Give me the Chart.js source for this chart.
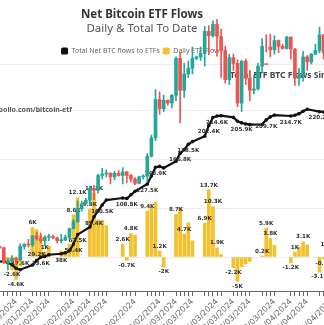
<!DOCTYPE html>
<html>
<head>
<meta charset="utf-8">
<script src="https://cdn.jsdelivr.net/npm/chart.js@4.4.1/dist/chart.umd.min.js"></script>
<style>
  html, body { margin: 0; padding: 0; background: #fff; overflow: hidden; }
  #wrap { position: absolute; left: -158px; top: 0; width: 600px; height: 333px; }
</style>
</head>
<body>
<div id="wrap"><canvas id="flowChart"></canvas></div>
<script>
// trading days with ETF flow data
const flowDates = [
  '2024-01-11', '2024-01-12', '2024-01-16', '2024-01-17', '2024-01-18', '2024-01-19',
  '2024-01-22', '2024-01-23', '2024-01-24', '2024-01-25', '2024-01-26',
  '2024-01-29', '2024-01-30', '2024-01-31', '2024-02-01', '2024-02-02',
  '2024-02-05', '2024-02-06', '2024-02-07', '2024-02-08', '2024-02-09',
  '2024-02-12', '2024-02-13', '2024-02-14', '2024-02-15', '2024-02-16',
  '2024-02-20', '2024-02-21', '2024-02-22', '2024-02-23',
  '2024-02-26', '2024-02-27', '2024-02-28', '2024-02-29', '2024-03-01',
  '2024-03-04', '2024-03-05', '2024-03-06', '2024-03-07', '2024-03-08',
  '2024-03-11', '2024-03-12', '2024-03-13', '2024-03-14', '2024-03-15',
  '2024-03-18', '2024-03-19', '2024-03-20', '2024-03-21', '2024-03-22',
  '2024-03-25', '2024-03-26', '2024-03-27', '2024-03-28',
  '2024-04-01', '2024-04-02', '2024-04-03', '2024-04-04', '2024-04-05',
  '2024-04-08', '2024-04-09', '2024-04-10', '2024-04-11', '2024-04-12'
];

// daily net flows, thousands of BTC
const dailyFlows = [
  11.0, 6.5, 5.8, 3.0, 0.6, 2.1,
  -1.0, -1.4, -2.6, -4.6, -1.8,
  6.0, 5.6, 4.4, 1.0, 2.2,
  1.2, 1.2, 2.6, 8.6, 12.1,
  9.8, 13.1, 7.6, 7.5, 6.4,
  2.6, -0.7, 4.8, 4.5,
  9.4, 10.2, 11.2, 1.2, -2.0,
  8.7, 10.0, 4.7, 7.0, 3.3,
  6.9, 13.7, 10.3, 1.9, 0.5,
  -2.2, -5.0, -2.0, -1.4, -0.9,
  0.2, 5.9, 3.8, 2.4,
  -1.2, 1.0, 2.0, 3.1, 2.5,
  -3.1, -0.4, 1.6, 0.8, -0.5
];

// total net flows to date, thousands of BTC
const totalFlows = [
  11.0, 17.5, 23.3, 26.3, 26.9, 29.0,
  28.0, 26.6, 24.0, 19.4, 17.6,
  23.6, 29.2, 33.6, 34.6, 36.8,
  38.0, 39.2, 41.8, 50.4, 62.5,
  72.3, 85.4, 93.0, 100.5, 106.9,
  109.5, 108.8, 113.6, 118.1,
  127.5, 137.7, 148.9, 150.1, 148.1,
  156.8, 166.8, 171.5, 178.5, 181.8,
  188.7, 202.4, 212.7, 214.6, 215.1,
  212.9, 207.9, 205.9, 204.5, 203.6,
  203.8, 209.7, 213.5, 215.9,
  214.7, 215.7, 217.7, 220.8, 223.3,
  220.2, 219.8, 221.4, 222.2, 221.7
];

// daily BTC candles (thousands of USD), one per calendar day from priceStart
const priceStart = '2024-01-18';
const priceOpen = [
  42.7, 41.3, 41.6, 41.7, 41.6, 39.5, 39.8, 40.1, 39.9, 41.8, 42.1, 42.0, 43.3, 42.9,
  42.6, 43.1, 43.2, 43.0, 42.6, 42.7, 43.1, 44.3, 45.3, 47.1, 47.8, 48.3, 50.0, 49.7, 51.8,
  52.0, 52.1, 51.6, 52.1, 51.8, 52.3, 51.8, 51.3, 50.7, 51.6, 51.7, 54.5, 57.1, 62.5,
  61.2, 62.4, 62.0, 63.1, 68.3, 63.8, 66.1, 66.9, 68.3, 68.5, 69.0, 72.1, 71.5, 73.1, 71.4,
  69.4, 65.3, 68.4, 67.6, 62.0, 67.9, 65.5, 63.8, 64.0, 67.2, 70.0, 69.9, 69.5, 70.8, 70.0, 69.7,
  71.3, 69.6, 65.5, 65.9, 68.5, 67.8, 68.9, 69.4, 71.6, 69.1, 70.6, 70.0
];
const priceHigh = [
  42.9, 42.2, 41.9, 41.9, 41.7, 40.1, 40.5, 40.3, 42.2, 42.2, 42.8, 43.3, 43.8, 43.7,
  43.3, 43.5, 43.4, 43.1, 43.5, 43.4, 44.4, 45.6, 48.2, 48.2, 48.6, 50.3, 50.4, 52.0, 52.8,
  52.6, 52.2, 52.4, 52.5, 52.9, 52.4, 52.0, 51.5, 51.7, 51.9, 54.9, 57.5, 63.9, 63.6,
  63.1, 62.4, 63.2, 68.5, 69.2, 67.6, 67.9, 69.9, 68.6, 69.9, 72.8, 72.9, 73.6, 73.8, 72.4,
  70.0, 68.9, 68.9, 68.1, 68.0, 68.2, 66.6, 65.9, 67.6, 71.1, 71.6, 71.7, 71.5, 70.9, 70.3, 71.4,
  71.3, 69.7, 66.9, 69.3, 68.7, 69.0, 70.3, 72.7, 71.7, 71.0, 71.2, 71.2
];
const priceLow = [
  40.7, 40.3, 41.5, 41.5, 39.4, 38.5, 39.5, 39.3, 39.8, 41.4, 41.7, 41.8, 42.7, 42.3,
  41.9, 42.6, 42.9, 42.3, 42.3, 42.6, 42.8, 44.3, 45.2, 46.8, 47.7, 47.7, 48.4, 49.3, 51.3,
  51.6, 50.6, 51.2, 51.7, 50.6, 50.8, 50.9, 50.5, 50.6, 51.3, 50.9, 54.4, 56.7, 60.4,
  60.8, 61.7, 61.3, 62.3, 59.2, 62.8, 65.6, 66.1, 68.1, 68.0, 67.2, 68.8, 71.3, 68.6, 65.6,
  64.8, 64.6, 66.6, 61.5, 60.8, 64.6, 62.3, 63.3, 63.8, 66.4, 69.2, 68.5, 68.9, 69.1, 69.6, 69.6,
  68.2, 64.5, 64.5, 65.1, 66.6, 67.5, 68.8, 69.1, 68.2, 67.5, 69.6, 65.3
];
const priceClose = [
  41.3, 41.6, 41.7, 41.6, 39.5, 39.8, 40.1, 39.9, 41.8, 42.1, 42.0, 43.3, 42.9, 42.6,
  43.1, 43.2, 43.0, 42.6, 42.7, 43.1, 44.3, 45.3, 47.1, 47.8, 48.3, 50.0, 49.7, 51.8, 52.0,
  52.1, 51.6, 52.1, 51.8, 52.3, 51.8, 51.3, 50.7, 51.6, 51.7, 54.5, 57.1, 62.5, 61.2,
  62.4, 62.0, 63.1, 68.3, 63.8, 66.1, 66.9, 68.3, 68.5, 69.0, 72.1, 71.5, 73.1, 71.4, 69.4,
  65.3, 68.4, 67.6, 62.0, 67.9, 65.5, 63.8, 64.0, 67.2, 70.0, 69.9, 69.5, 70.8, 70.0, 69.7, 71.3,
  69.6, 65.5, 65.9, 68.5, 67.8, 68.9, 69.4, 71.6, 69.1, 70.6, 70.0, 67.2
];

// x axis labels and which points carry value labels
const tickLabelDates = [
  '2024-01-19', '2024-01-25', '2024-01-29', '2024-02-02', '2024-02-08', '2024-02-12',
  '2024-02-16', '2024-02-23', '2024-02-29', '2024-03-04', '2024-03-08', '2024-03-14',
  '2024-03-18', '2024-03-22', '2024-03-28', '2024-04-01', '2024-04-05', '2024-04-11'
];
const barLabelDates = [
  '2024-01-24', '2024-01-25', '2024-01-29', '2024-02-01', '2024-02-08', '2024-02-09',
  '2024-02-12', '2024-02-13', '2024-02-20', '2024-02-21', '2024-02-22', '2024-02-26',
  '2024-02-29', '2024-03-01', '2024-03-04', '2024-03-06', '2024-03-11', '2024-03-12',
  '2024-03-13', '2024-03-14', '2024-03-18', '2024-03-19', '2024-03-25', '2024-03-26',
  '2024-03-27', '2024-04-01', '2024-04-02', '2024-04-04', '2024-04-08', '2024-04-09',
  '2024-04-10'
];
const totalLabelDates = [
  '2024-01-26', '2024-01-30', '2024-01-31', '2024-02-05', '2024-02-08', '2024-02-09',
  '2024-02-13', '2024-02-15', '2024-02-21', '2024-02-26', '2024-02-28', '2024-03-05',
  '2024-03-07', '2024-03-12', '2024-03-14', '2024-03-20', '2024-03-26', '2024-04-01',
  '2024-04-08'
];

const GREEN = '#26a69a';
const RED = '#ef5350';
const YELLOW = '#f2c12e';

function toDay(s) {
  const [y, m, d] = s.split('-').map(Number);
  return (Date.UTC(y, m - 1, d) - Date.UTC(2024, 0, 1)) / 86400000;
}
function fmtDate(s) {
  const [y, m, d] = s.split('-');
  return `${d}/${m}/${y}`;
}
function fmtK(v) {
  return `${Math.round(v * 10) / 10}K`;
}

const flowDays = flowDates.map(toDay);
const tickLabels = new Map(tickLabelDates.map((s) => [toDay(s), fmtDate(s)]));
const barLabelSet = new Set(barLabelDates);
const totalLabelSet = new Set(totalLabelDates);

const priceDays = priceOpen.map((_, i) => toDay(priceStart) + i);
const candleColors = priceOpen.map((o, i) => (priceClose[i] >= o ? GREEN : RED));

const overlayText = {
  id: 'overlayText',
  beforeDatasetsDraw(chart) {
    const ctx = chart.ctx;
    ctx.save();
    ctx.textBaseline = 'middle';
    ctx.font = 'bold 7px "Noto Sans"';
    ctx.fillStyle = '#555';
    ctx.textAlign = 'right';
    ctx.fillText('heyapollo.com/bitcoin-etf', 230, 110);
    ctx.font = 'bold 8.5px "Noto Sans"';
    ctx.fillStyle = '#444';
    ctx.textAlign = 'left';
    ctx.fillText('Total ETF BTC Flows Since Launch', 388, 76);
    ctx.restore();
  },
  afterDatasetDraw(chart, args) {
    const ctx = chart.ctx;
    const meta = chart.getDatasetMeta(args.index);
    ctx.save();
    ctx.font = 'bold 5.6px "DejaVu Sans"';
    ctx.fillStyle = '#333';
    ctx.textAlign = 'center';
    if (args.index === 1) {
      flowDates.forEach((d, i) => {
        if (!barLabelSet.has(d)) return;
        const el = meta.data[i];
        const v = dailyFlows[i];
        if (v >= 0) {
          ctx.textBaseline = 'bottom';
          ctx.fillText(fmtK(v), el.x, el.y - 2);
        } else {
          ctx.textBaseline = 'top';
          ctx.fillText(fmtK(v), el.x, el.y + 2);
        }
      });
    }
    if (args.index === 0) {
      flowDates.forEach((d, i) => {
        if (!totalLabelSet.has(d)) return;
        const el = meta.data[i];
        if (el.y > 258) {
          ctx.textBaseline = 'bottom';
          ctx.fillText(fmtK(totalFlows[i]), el.x, el.y - 3.5);
        } else {
          ctx.textBaseline = 'top';
          ctx.fillText(fmtK(totalFlows[i]), el.x, el.y + 3.5);
        }
      });
    }
    ctx.restore();
  }
};

Chart.defaults.font.family = '"Noto Sans", sans-serif';

new Chart(document.getElementById('flowChart'), {
  type: 'bar',
  data: {
    datasets: [
      {
        type: 'line',
        label: 'Total Net BTC flows to ETFs',
        data: flowDays.map((x, i) => ({ x, y: totalFlows[i] })),
        yAxisID: 'yTotal',
        order: 2,
        borderColor: '#111',
        backgroundColor: '#111',
        borderWidth: 2.2,
        pointRadius: 1.8,
        pointBackgroundColor: '#111',
        pointBorderWidth: 0,
        tension: 0
      },
      {
        label: 'Daily ETF Flows',
        data: flowDays.map((x, i) => ({ x, y: dailyFlows[i] })),
        yAxisID: 'yFlow',
        order: 3,
        backgroundColor: YELLOW,
        barThickness: 3,
        grouped: false
      },
      {
        label: 'BTC range',
        data: priceDays.map((x, i) => ({ x, y: [priceLow[i], priceHigh[i]] })),
        yAxisID: 'yPrice',
        order: 1,
        backgroundColor: candleColors,
        barThickness: 1,
        grouped: false,
        clip: false
      },
      {
        label: 'BTC',
        data: priceDays.map((x, i) => ({ x, y: [priceOpen[i], priceClose[i]] })),
        yAxisID: 'yPrice',
        order: 0,
        backgroundColor: candleColors,
        barThickness: 3,
        minBarLength: 1,
        grouped: false,
        clip: false
      }
    ]
  },
  options: {
    responsive: true,
    maintainAspectRatio: false,
    animation: false,
    devicePixelRatio: 1,
    layout: { padding: 0 },
    plugins: {
      title: {
        display: true,
        text: 'Net Bitcoin ETF Flows',
        color: '#333',
        font: { size: 11.5, weight: 'bold' },
        padding: { top: 8.1, bottom: 0.2 }
      },
      subtitle: {
        display: true,
        text: 'Daily & Total To Date',
        color: '#555',
        font: { size: 11.5 },
        padding: { top: 0, bottom: 8.7 }
      },
      legend: {
        labels: {
          generateLabels: (chart) =>
            Chart.defaults.plugins.legend.labels.generateLabels(chart)
              .filter((item) => item.datasetIndex < 2)
              .map((item) => ({ ...item, lineWidth: 0 })),
          color: '#666',
          font: { size: 7 },
          boxWidth: 7,
          boxHeight: 7,
          padding: 3,
          useBorderRadius: true,
          borderRadius: 1.5
        }
      },
      tooltip: { enabled: false }
    },
    scales: {
      x: {
        type: 'linear',
        min: -17.49,
        max: 126.9,
        offset: false,
        afterBuildTicks: (axis) => {
          axis.ticks = flowDays.map((value) => ({ value }));
        },
        afterFit: (axis) => {
          axis.height = 42;
        },
        ticks: {
          autoSkip: false,
          minRotation: 45,
          maxRotation: 45,
          padding: 1,
          color: '#666',
          font: { family: '"DejaVu Sans"', size: 8 },
          callback: (value) => tickLabels.get(value) || ''
        },
        grid: { display: true, drawOnChartArea: false, offset: false, tickLength: 5, color: '#666' },
        border: { display: true, color: '#666' }
      },
      yFlow: {
        position: 'left',
        min: -6.94,
        max: 39.29,
        ticks: { display: false, stepSize: 10 },
        grid: { color: 'rgba(0,0,0,0.07)', drawTicks: false },
        border: { display: false }
      },
      yTotal: { display: false, min: -9.74, max: 280.6 },
      yPrice: { display: false, min: 35.52, max: 67.42 }
    }
  },
  plugins: [overlayText]
});
</script>
</body>
</html>
